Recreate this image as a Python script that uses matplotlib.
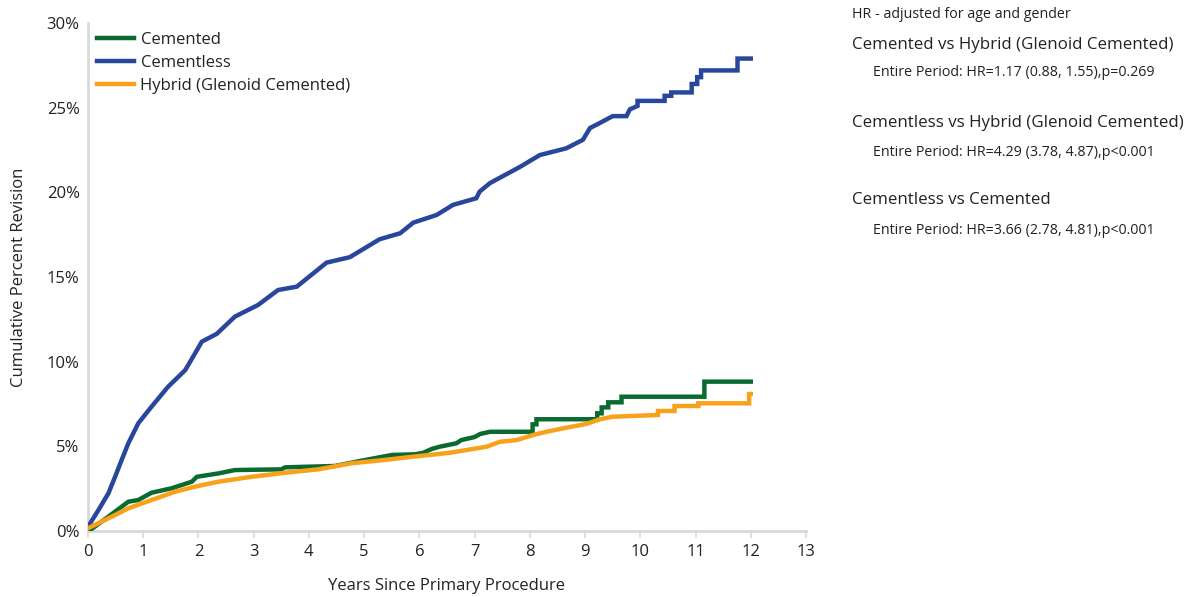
import matplotlib
matplotlib.use("Agg")
import matplotlib.pyplot as plt
from matplotlib.ticker import FuncFormatter

plt.rcParams['font.family'] = ['Open Sans', 'DejaVu Sans']

# Curve vertices (years, cumulative percent revision)
# Cementless (blue)
cementless_t = [0.0, 0.19, 0.37, 0.49, 0.61, 0.73, 0.91, 1.15, 1.45, 1.76, 1.94, 2.06, 2.33, 2.66, 3.08,
                3.44, 3.78, 4.32, 4.74, 5.28, 5.65, 5.89, 6.31, 6.61, 7.03, 7.09, 7.28, 7.82, 8.18,
                8.66, 8.96, 9.09, 9.27, 9.5, 9.75, 9.81, 9.95, 9.95, 10.44, 10.44, 10.56, 10.56,
                10.93, 10.93, 11.03, 11.03, 11.1, 11.1, 11.76, 11.76, 12.0]
cementless_v = [0.25, 1.24, 2.23, 3.2, 4.2, 5.18, 6.36, 7.34, 8.52, 9.5, 10.5, 11.18, 11.64, 12.66, 13.35,
                14.23, 14.43, 15.85, 16.17, 17.23, 17.58, 18.21, 18.66, 19.26, 19.65, 20.04, 20.55, 21.5, 22.2,
                22.6, 23.1, 23.8, 24.1, 24.5, 24.5, 24.9, 25.1, 25.4, 25.4, 25.7, 25.7, 25.9,
                25.9, 26.4, 26.4, 26.8, 26.8, 27.2, 27.2, 27.9, 27.9]

# Cemented (green)
cemented_t = [0.0, 0.04, 0.37, 0.73, 0.91, 1.15, 1.51, 1.88, 1.97, 2.36, 2.66, 3.5, 3.57, 4.47, 4.95, 5.5,
              5.92, 6.07, 6.22, 6.37, 6.67, 6.76, 7.0, 7.1, 7.28, 8.05, 8.05, 8.12, 8.12, 9.22, 9.22,
              9.3, 9.3, 9.42, 9.42, 9.66, 9.66, 11.16, 11.16, 12.0]
cemented_v = [0.0, 0.06, 0.85, 1.73, 1.83, 2.26, 2.52, 2.91, 3.2, 3.4, 3.6, 3.64, 3.76, 3.84, 4.15, 4.49,
              4.53, 4.62, 4.84, 4.98, 5.18, 5.37, 5.55, 5.73, 5.86, 5.86, 6.3, 6.3, 6.6, 6.6, 6.95,
              6.95, 7.3, 7.3, 7.6, 7.6, 7.93, 7.93, 8.82, 8.82]

# Hybrid (Glenoid Cemented) (orange)
hybrid_t = [0.0, 0.37, 0.73, 1.15, 1.58, 1.94, 2.36, 2.96, 3.57, 4.17, 4.77, 5.38, 5.92, 6.55, 6.85, 7.22,
            7.46, 7.76, 8.06, 8.3, 8.66, 9.02, 9.27, 9.5, 10.32, 10.32, 10.62, 10.62, 11.05, 11.05,
            11.97, 11.97, 12.0]
hybrid_v = [0.16, 0.75, 1.34, 1.83, 2.32, 2.62, 2.91, 3.2, 3.44, 3.64, 4.0, 4.2, 4.4, 4.62, 4.78, 4.98,
            5.27, 5.37, 5.67, 5.86, 6.1, 6.32, 6.6, 6.75, 6.85, 7.09, 7.09, 7.38, 7.38, 7.54,
            7.54, 8.09, 8.09]

x_ticks = list(range(0, 14))
y_ticks = [0, 5, 10, 15, 20, 25, 30]

hr_title = "HR - adjusted for age and gender"
hr_blocks = [
    ("Cemented vs Hybrid (Glenoid Cemented)", "Entire Period: HR=1.17 (0.88, 1.55),p=0.269"),
    ("Cementless vs Hybrid (Glenoid Cemented)", "Entire Period: HR=4.29 (3.78, 4.87),p<0.001"),
    ("Cementless vs Cemented", "Entire Period: HR=3.66 (2.78, 4.81),p<0.001"),
]

green = '#0a6b31'
blue = '#28469c'
orange = '#f8a21c'

fig = plt.figure(figsize=(11.92, 5.97), dpi=100)
ax = fig.add_axes([88/1192, 66/597, (806-88)/1192, (574-66)/597])

ax.plot(cementless_t, cementless_v, color=blue, lw=3.2, label='Cementless', zorder=3,
        solid_joinstyle='miter')
ax.plot(cemented_t, cemented_v, color=green, lw=3.2, label='Cemented', zorder=3,
        solid_joinstyle='miter')
ax.plot(hybrid_t, hybrid_v, color=orange, lw=3.2, label='Hybrid (Glenoid Cemented)', zorder=4,
        solid_joinstyle='miter')

ax.set_xlim(0, 13)
ax.set_ylim(0, 30)
ax.set_xticks(x_ticks)
ax.set_yticks(y_ticks)
ax.yaxis.set_major_formatter(FuncFormatter(lambda v, p: f"{int(v)}%"))
for s in ['top', 'right']:
    ax.spines[s].set_visible(False)
for s in ['left', 'bottom']:
    ax.spines[s].set_color('#d9d9d9')
    ax.spines[s].set_linewidth(2)
ax.tick_params(axis='x', colors='#d9d9d9', length=5, width=1.2, labelcolor='#222222', labelsize=12, pad=4)
ax.tick_params(axis='y', length=0, labelcolor='#222222', labelsize=12, pad=6)
ax.set_xlabel('Years Since Primary Procedure', fontsize=12, color='#222222', labelpad=13)
ax.set_ylabel('Cumulative Percent Revision', fontsize=12, color='#222222', labelpad=14)

handles, labels = ax.get_legend_handles_labels()
order = [1, 0, 2]
leg = ax.legend([handles[i] for i in order], [labels[i] for i in order], loc='upper left',
                bbox_to_anchor=(0.0, 1.0), frameon=False, fontsize=12, handlelength=2.2,
                handletextpad=0.4, labelspacing=0.42, borderaxespad=0.15)
for t in leg.get_texts():
    t.set_color('#222222')

def fx(px):
    return px / 1192
def fy(py):
    return 1 - py / 597

fig.text(fx(852), fy(15), hr_title, fontsize=10.3, va='center', ha='left', color='#222222')
ys = [(45, 73), (123, 152), (200, 230)]
for (head, sub), (y1, y2) in zip(hr_blocks, ys):
    fig.text(fx(852), fy(y1), head, fontsize=12.2, va='center', ha='left', color='#222222')
    fig.text(fx(873), fy(y2), sub, fontsize=10.3, va='center', ha='left', color='#222222')

fig.savefig('out.png', dpi=100)
